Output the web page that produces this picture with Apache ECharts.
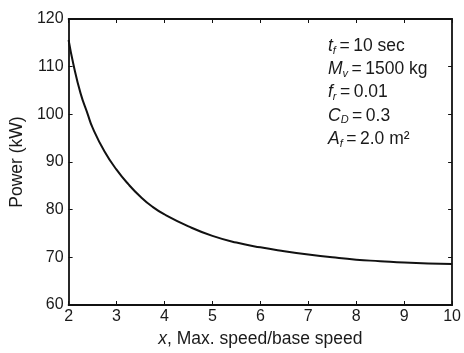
<!DOCTYPE html>
<html><head><meta charset="utf-8">
<script src="https://cdn.jsdelivr.net/npm/echarts@6/dist/echarts.min.js"></script>
<style>html,body{margin:0;padding:0;background:#fff}#c{width:464px;height:353px}</style>
</head><body><div id="c"></div>
<script>
const xValues = [2, 2.1, 2.25, 2.4, 2.5, 2.75, 3, 3.25, 3.5, 3.75, 4, 4.5, 5, 5.5, 6, 6.5, 7, 7.5, 8, 8.5, 9, 9.5, 10];
const powerKW = [115.6, 110.5, 104.4, 100.0, 97.2, 92.2, 88.4, 85.3, 82.7, 80.6, 79.0, 76.5, 74.5, 73.1, 72.1, 71.3, 70.6, 70.0, 69.5, 69.2, 68.9, 68.7, 68.6];
const xTicks = [2, 3, 4, 5, 6, 7, 8, 9, 10];
const yTicks = [60, 70, 80, 90, 100, 110, 120];

const font = 'Liberation Sans, Arial, sans-serif';
const txt = '#1a1a1a';
const chart = echarts.init(document.getElementById('c'));
const axisCommon = {
  axisLine: {show: true, onZero: false, lineStyle: {color: '#111', width: 1.8}},
  axisTick: {show: true, inside: true, length: 4, lineStyle: {color: '#111', width: 1}},
  splitLine: {show: false}
};
const annotationLines = [
  '{v|t}{s|f}{n|\u2009=\u200910 sec}',
  '{v|M}{s|v}{n|\u2009=\u20091500 kg}',
  '{v|f}{s|r}{n|\u2009=\u20090.01}',
  '{v|C}{s|D}{n|\u2009=\u20090.3}',
  '{v|A}{s|f}{n|\u2009=\u20092.0 m²}'
];
const rich = {
  v: {fontStyle: 'italic', fontSize: 17.5, fontFamily: font, fill: txt, color: txt},
  s: {fontStyle: 'italic', fontSize: 11, fontFamily: font, fill: txt, color: txt, padding: [9, 0, 0, 0]},
  n: {fontSize: 17.5, fontFamily: font, fill: txt, color: txt}
};
chart.setOption({
  animation: false,
  grid: {left: 67, right: 9, top: 19, bottom: 48},
  xAxis: [
    Object.assign({type: 'value', min: xTicks[0], max: xTicks[xTicks.length - 1], interval: 1, position: 'bottom',
      name: '{i|x}, Max. speed/base speed', nameLocation: 'middle', nameGap: 19,
      nameTextStyle: {fontSize: 17.5, fontFamily: font, color: txt, rich: {i: {fontStyle: 'italic', fontSize: 17.5, fontFamily: font, color: txt}}},
      axisLabel: {fontSize: 16, fontFamily: font, color: txt, margin: 4}}, axisCommon),
    Object.assign({type: 'value', min: xTicks[0], max: xTicks[xTicks.length - 1], interval: 1, position: 'top',
      axisLabel: {show: false}}, axisCommon)
  ],
  yAxis: [
    Object.assign({type: 'value', min: yTicks[0], max: yTicks[yTicks.length - 1], interval: 10, position: 'left',
      name: 'Power (kW)', nameLocation: 'middle', nameGap: 37,
      nameTextStyle: {fontSize: 17.5, fontFamily: font, color: txt},
      axisLabel: {fontSize: 16, fontFamily: font, color: txt, margin: 5}}, axisCommon),
    Object.assign({type: 'value', min: yTicks[0], max: yTicks[yTicks.length - 1], interval: 10, position: 'right',
      axisLabel: {show: false}}, axisCommon)
  ],
  series: [{
    type: 'line', xAxisIndex: 0, yAxisIndex: 0, smooth: true, showSymbol: false,
    lineStyle: {color: '#111', width: 2},
    data: xValues.map((x, i) => [x, powerKW[i]])
  }],
  graphic: annotationLines.map((t, i) => ({
    type: 'text', left: 328, top: 37 + i * 23.3,
    style: {text: t, rich: rich, fontFamily: font, fontSize: 17.5, fill: txt}
  }))
});
</script></body></html>
